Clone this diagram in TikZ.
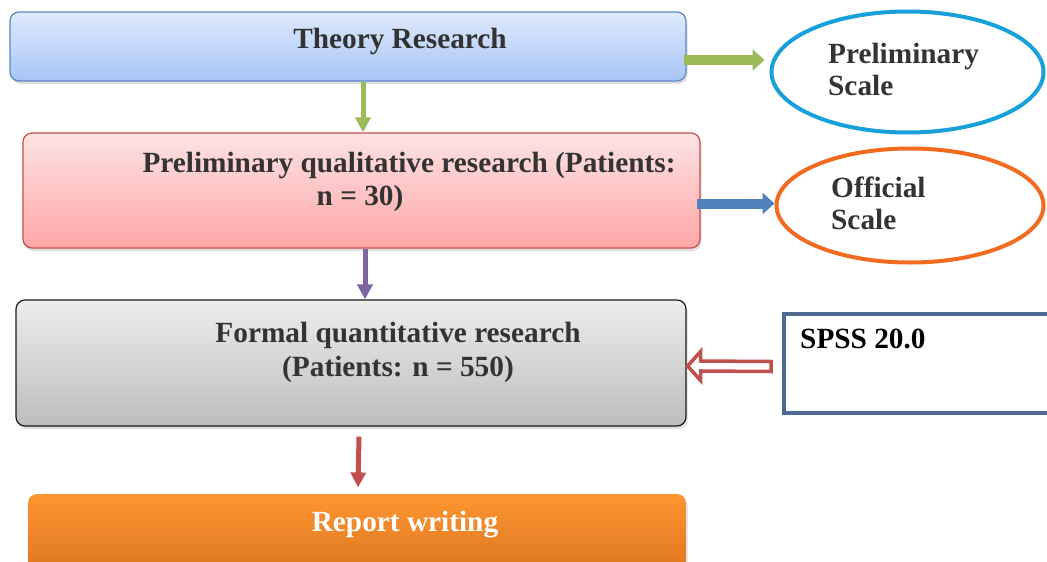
\documentclass[tikz,border=0pt]{standalone}
\usepackage{fontspec}
\setmainfont{Liberation Serif}
\usetikzlibrary{arrows.meta,shadows,calc,shapes.geometric}
\definecolor{txt}{HTML}{333333}
\definecolor{thB}{HTML}{5A87C5}
\definecolor{thT}{HTML}{DFEAFC}
\definecolor{thD}{HTML}{A6C5F7}
\definecolor{grn}{HTML}{9BBB59}
\definecolor{elB}{HTML}{17A0DA}
\definecolor{pkB}{HTML}{C0504D}
\definecolor{pkT}{HTML}{FDE3E3}
\definecolor{pkD}{HTML}{FFA6A6}
\definecolor{bluA}{HTML}{4F81BD}
\definecolor{elO}{HTML}{F26B21}
\definecolor{purA}{HTML}{8064A2}
\definecolor{gyB}{HTML}{1A1A1A}
\definecolor{gyT}{HTML}{EDEDED}
\definecolor{gyD}{HTML}{BDBDBD}
\definecolor{redA}{HTML}{C0504D}
\definecolor{spB}{HTML}{4F6A92}
\definecolor{orT}{HTML}{FD9530}
\definecolor{orD}{HTML}{D9731F}
\tikzset{
  box/.style={rectangle, rounded corners=9pt, line width=1.2pt, inner sep=0pt,
    drop shadow={opacity=0.25, shadow xshift=1.5pt, shadow yshift=-3pt}},
  lbl/.style={font=\fontsize{29.3}{33}\selectfont\bfseries, text=txt, inner sep=0pt, anchor=base},
  lblw/.style={font=\fontsize{29.3}{33}\selectfont\bfseries, text=txt, inner sep=0pt, anchor=base west},
  ell/.style={ellipse, line width=4pt, fill=white, inner sep=0pt},
  thin arrow/.style={line width=5pt, -{Triangle[length=15pt,width=15pt]}},
  wide arrow/.style={line width=10pt, -{Triangle[length=12pt,width=21pt]}},
}
\begin{document}
\begin{tikzpicture}[x=1pt,y=-1pt]
\path[use as bounding box, clip] (0,0) rectangle (1047,562);
\fill[white] (0,0) rectangle (1047,562);

% boxes
\node[box, draw=thB, top color=thT, bottom color=thD, minimum width=676pt, minimum height=69pt] (theory) at (348,46.5) {};
\node[lbl] (theoryT) at (400,48) {Theory Research};

\node[box, draw=pkB, top color=pkT, bottom color=pkD, minimum width=677pt, minimum height=115pt] (prelim) at (361.5,190.5) {};
\node[lbl] (prelimT1) at (409,172) {Preliminary qualitative research (Patients:};
\node[lbl] (prelimT2) at (360,205) {n = 30)};

\node[box, draw=gyB, top color=gyT, bottom color=gyD, minimum width=670pt, minimum height=126pt] (formal) at (351,363) {};
\node[lbl] (formalT1) at (398,342) {Formal quantitative research};
\node[lbl] (formalT2) at (398,376) {(Patients: n = 550)};

\node[box, draw=none, top color=orT, bottom color=orD, minimum width=658pt, minimum height=90pt] (report) at (357,539) {};
\node[lbl, text=white] (reportT) at (405,531) {Report writing};

% ellipses
\node[ell, draw=elB, minimum width=272pt, minimum height=121pt] (pscale) at (907.5,72) {};
\node[lblw] (pscaleT1) at (828,63) {Preliminary};
\node[lblw] (pscaleT2) at (828,95) {Scale};

\node[ell, draw=elO, minimum width=267pt, minimum height=114pt] (oscale) at (910,205.5) {};
\node[lblw] (oscaleT1) at (831,197) {Official};
\node[lblw] (oscaleT2) at (831,229) {Scale};

% SPSS box
\node[rectangle, draw=spB, line width=4pt, fill=white, minimum width=300pt, minimum height=99pt, inner sep=0pt] (spss) at (934,363.5) {};
\node[lblw, text=black] (spssT) at (800,348) {SPSS 20.0};

% connectors
\draw[thin arrow, grn] ([xshift=15pt]theory.south) -- ([xshift=1.5pt]prelim.north);
\draw[thin arrow, purA] ([xshift=3.5pt]prelim.south) -- ([xshift=14pt]formal.north);
\draw[thin arrow, redA] ([xshift=8pt,yshift=-10pt]formal.south) -- ([xshift=1pt,yshift=6pt]report.north);
\coordinate (g0) at ([xshift=-3pt,yshift=-13.5pt]theory.east);
\draw[wide arrow, grn, shorten >=5pt] (g0) -- (g0 -| pscale.west);
\coordinate (b0) at ([xshift=-4pt,yshift=-13pt]prelim.east);
\draw[wide arrow, bluA] (b0) -- (b0 -| oscale.west);

% hollow arrow from SPSS to formal
\coordinate (tip) at ([xshift=1pt,yshift=-3pt]formal.east);
\coordinate (tail) at ([xshift=-11pt,yshift=-3pt]spss.west);
\draw[redA, line width=3.5pt, fill=white, line join=miter]
  (tip) -- ($(tip)+(13,-14.5)$) -- ($(tip)+(13,-5)$) -- ($(tail)+(0,-5)$)
  -- ($(tail)+(0,5)$) -- ($(tip)+(13,5)$) -- ($(tip)+(13,14.5)$) -- cycle;
\end{tikzpicture}
\end{document}
